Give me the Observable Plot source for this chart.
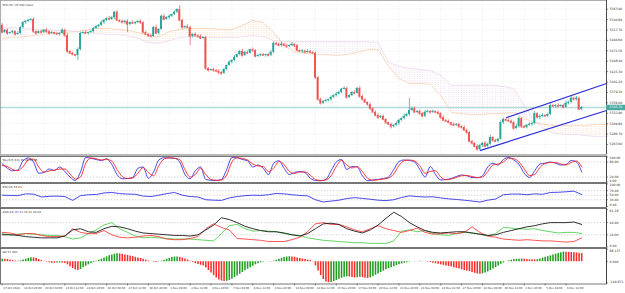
<!DOCTYPE html>
<html><head><meta charset="utf-8">
<script src="https://cdn.jsdelivr.net/npm/d3@7"></script>
<script src="https://cdn.jsdelivr.net/npm/@observablehq/plot@0.6"></script>
<style>
body{margin:0;background:#fff;}
#chart{position:relative;width:625px;height:293px;background:#fff;overflow:hidden;font-family:"DejaVu Sans",sans-serif}
#chart svg{position:absolute;left:0}
.sep{position:absolute;left:0;width:607px;background:#b8b8b8}
</style></head><body><div id="chart"></div>
<script>
// ---------- data ----------
const title = "SPX,H4: US 500 Index";
const stochTitle = "Stoch(5,3,3) 39.46 59.85";
const rsiTitle = "RSI(14) 53.21";
const adxTitle = "ADX(14) 37.11 15.21 22.06";
const aoTitle = "AO 57.260";

const firstOpen = 5528;
const close = [5512,5517,5510,5512,5514,5508,5510,5523,5534,5537,
5539,5541,5514,5510,5514,5512,5517,5514,5510,5512,
5510,5508,5510,5517,5505,5470,5466,5463,5461,5474,
5510,5512,5510,5512,5514,5521,5525,5528,5534,5539,
5543,5541,5545,5557,5539,5537,5534,5537,5530,5534,
5532,5534,5537,5534,5512,5508,5505,5503,5523,5510,
5519,5548,5541,5545,5548,5552,5557,5563,5539,5523,
5525,5523,5503,5508,5505,5503,5499,5501,5432,5428,
5430,5428,5426,5423,5421,5430,5439,5446,5450,5457,
5463,5470,5461,5468,5466,5474,5472,5459,5461,5463,
5461,5463,5461,5468,5488,5486,5483,5486,5483,5481,
5483,5486,5483,5472,5470,5471,5468,5470,5468,5466,
5412,5363,5355,5359,5361,5363,5368,5372,5375,5379,
5386,5388,5368,5372,5379,5377,5388,5370,5363,5357,
5352,5343,5335,5328,5323,5326,5319,5312,5308,5303,
5306,5310,5317,5321,5326,5330,5339,5343,5335,5337,
5332,5326,5335,5337,5335,5337,5335,5332,5323,5317,
5315,5312,5308,5306,5308,5303,5301,5295,5290,5270,
5266,5259,5252,5261,5266,5259,5264,5279,5272,5270,
5275,5312,5319,5317,5315,5312,5299,5303,5321,5303,
5301,5306,5308,5310,5332,5323,5326,5328,5326,5330,
5350,5348,5350,5348,5350,5346,5355,5357,5366,5363,
5366,5341,5345.7];
const wickUp = [4,2,3,1,3,2,4,2,3,1,
2,3,4,2,1,3,2,4,2,3,
1,3,2,4,3,5,2,3,1,4,
3,2,4,1,3,2,3,2,4,3,
2,5,3,2,4,1,3,2,3,2,
4,2,1,3,2,3,2,4,3,5,
2,3,4,2,3,1,3,2,9,3,
2,4,3,1,3,2,4,2,3,2,
1,3,2,4,2,3,1,3,2,4,
2,3,5,2,3,1,4,2,3,2,
3,1,2,4,3,2,3,5,2,3,
2,4,1,3,2,3,2,4,3,2,
3,2,4,2,3,1,3,2,4,3,
2,4,3,2,3,4,2,4,3,2,
1,3,2,3,4,2,3,2,1,3,
2,4,3,2,5,3,27,3,4,2,
3,2,4,3,2,3,1,3,2,4,
2,3,1,4,2,3,2,4,3,2,
3,2,4,3,2,4,3,5,2,3,
2,4,3,2,4,3,3,5,4,2,
3,2,4,3,5,2,3,4,2,3,
4,3,2,4,2,3,5,3,6,3,
4,3,2];
const wickDn = [3,2,4,2,3,4,2,3,2,4,
3,2,3,4,2,3,2,3,4,2,
3,2,4,2,3,4,3,2,3,11,
2,3,2,4,2,3,2,3,2,4,
3,2,3,4,2,3,2,4,18,3,
2,3,2,4,3,2,4,3,2,3,
4,2,3,2,4,3,2,3,2,4,
3,2,20,3,2,4,3,2,4,3,
2,4,3,5,4,2,3,2,4,3,
2,3,4,2,3,2,4,3,2,3,
2,4,3,2,3,4,2,3,2,4,
3,2,4,3,2,4,3,2,3,2,
4,3,4,3,2,3,4,2,3,2,
3,2,4,3,2,3,2,4,3,2,
3,4,2,3,4,2,3,4,2,5,
3,2,4,2,3,2,4,3,2,3,
4,2,3,2,4,3,2,3,4,2,
3,2,4,3,2,4,3,2,4,3,
4,3,3,2,4,3,2,3,4,2,
3,2,4,3,2,3,4,2,3,4,
2,3,2,4,3,2,4,3,2,3,
3,2,4,3,2,3,2,4,3,2,
3,2,3];

// Ichimoku cloud, one value every 4 bars
const cloudStep = 4;
const spanA = [5499,5501,5503,5505,5508,5510,5512,5514,5517,5521,5521,5519,5517,5512,5505,5503,5514,5519,5521,5521,5521,5519,5519,5528,5539,5534,5512,5483,5468,5466,5463,5463,5461,5463,5468,5474,5474,5437,5410,5399,5399,5397,5372,5335,5332,5330,5330,5332,5332,5335,5321,5312,5308,5306,5306,5306,5306,5308,5308];
const spanB = [5523,5523,5521,5519,5519,5517,5517,5514,5512,5510,5508,5508,5505,5499,5490,5488,5494,5501,5503,5503,5501,5501,5501,5503,5505,5503,5494,5492,5492,5492,5492,5492,5492,5492,5492,5492,5490,5446,5437,5432,5430,5428,5417,5395,5395,5395,5395,5395,5392,5388,5350,5317,5295,5288,5286,5286,5283,5281,5281];

// trend channel (bar index, price)
const channelStart = [183, 193];
const channelStartPrice = [5250, 5323];
const channelEnd = [231.5, 231.5];
const channelEndPrice = [5339, 5399];

// Stochastic, one value every 2 bars
const stochStep = 2;
const stochK = [73,55,45,48,85,96,80,35,38,52,
46,60,42,20,6,40,98,95,90,86,
93,70,30,13,14,18,55,60,15,40,
88,97,96,95,80,30,13,45,60,10,
7,6,10,50,98,97,90,85,60,68,
55,30,75,85,55,30,38,42,38,15,
6,5,10,45,80,90,50,62,60,25,
5,8,10,14,20,50,82,88,86,80,
50,20,62,30,8,10,14,22,28,25,
18,17,25,60,75,68,90,98,88,70,
35,18,45,72,75,80,75,68,70,86,
80,40];
const stochD = [66,62,50,45,62,88,92,60,40,44,
48,52,52,32,12,20,75,96,93,88,
90,84,50,22,14,16,35,58,38,25,
65,92,97,95,90,50,20,30,55,30,
10,7,8,28,80,97,94,88,72,64,
62,42,55,82,70,42,34,40,40,28,
10,6,8,25,62,86,68,56,62,42,
15,7,9,12,16,32,66,85,88,84,
65,35,42,45,20,9,12,18,25,26,
22,18,20,42,68,72,80,95,93,80,
52,26,30,58,74,78,78,72,68,78,
84,60];

// RSI and ADX, one value every 3 bars
const rsiStep = 3;
const rsi = [50,49,48,56,55,42,45,46,44,27,
48,52,53,60,62,57,55,54,46,44,
50,57,62,50,44,42,30,28,27,38,
44,48,50,49,52,58,56,52,49,47,
30,20,24,28,35,39,36,32,28,26,
30,40,47,44,42,43,38,34,31,28,
24,20,28,33,52,55,55,52,56,54,
62,63,65,68,53];
const adxStep = 3;
const adx = [20,20,19,17,16,15,15,15,18,28,
30,25,24,30,34,33,30,26,23,22,
21,20,19,19,18,20,28,36,48,45,
40,34,30,27,25,25,23,20,18,22,
30,38,39,37,30,26,23,28,36,47,
57,50,40,33,27,24,23,24,25,25,
23,21,19,20,24,27,30,33,35,38,
40,40,40,41,37];
const minusDI = [24,23,20,22,22,19,17,17,18,30,
24,22,22,27,20,16,15,16,18,19,
17,13,12,12,14,17,30,38,32,28,
14,13,12,11,9,9,9,12,16,25,
38,40,37,37,33,28,25,30,35,30,
27,24,27,31,24,21,22,23,22,24,
33,24,18,16,13,12,11,12,11,10,
10,9,8,9,15];
const plusDI = [22,20,21,22,21,20,19,19,17,13,
15,22,28,36,40,30,24,18,15,16,
15,14,13,13,13,12,11,10,22,35,
37,30,26,27,26,25,22,20,19,15,
13,11,10,9,8,7,7,6,6,6,
10,26,28,25,27,22,20,19,22,24,
23,21,18,22,32,31,30,29,30,27,
25,23,24,24,22];

// Awesome Oscillator, one value per bar
const ao = [18,17,15,12,8,5,3,6,12,18,
24,28,27,22,15,8,2,-3,-8,-10,
-11,-9,-8,-10,-13,-22,-35,-48,-58,-62,
-55,-42,-32,-22,-13,-5,3,10,18,26,
34,42,48,53,56,55,52,48,44,40,
36,31,27,23,18,11,5,0,-4,-5,
-2,4,11,18,24,29,33,34,31,26,
20,12,3,-6,-14,-20,-25,-30,-45,-62,
-80,-98,-115,-128,-136,-140,-138,-132,-124,-112,
-100,-88,-76,-64,-53,-42,-32,-22,-14,-8,
-3,0,2,1,4,10,17,24,29,33,
35,34,31,27,23,19,15,12,8,2,
-30,-66,-98,-125,-143,-148,-146,-140,-132,-124,
-117,-110,-106,-108,-112,-115,-113,-110,-112,-116,
-118,-114,-106,-96,-86,-76,-66,-57,-49,-42,
-35,-28,-22,-16,-11,-7,-3,0,2,1,
3,2,-1,-3,-6,-10,-14,-18,-22,-26,
-30,-34,-38,-42,-47,-52,-57,-62,-66,-70,
-76,-82,-87,-89,-86,-80,-72,-62,-52,-42,
-30,-18,-8,0,6,11,15,17,18,19,
17,16,14,13,12,15,20,26,31,36,
41,47,53,58,63,68,67,66,65,63,
62,60,57];

// axis tick labels
const priceTicks = [5563.90,5540.80,5517.70,5494.60,5471.50,5448.40,5425.30,5402.20,5379.10,5356.00,5332.90,5309.80,5286.70,5263.60];
const stochTicks = [100,80,20,0];
const stochLevels = [80,20];
const rsiTicks = [100,70,50,30,0];
const rsiLevels = [70,50,30];
const adxTicks = [61.18,40,20,0];
const adxLevels = [40,20];
const aoTicks = [88.137,0,-149.872];
const timeLabelStep = 8;
const timeLabels = ["17 Oct 2023","18 Oct 20:00","20 Oct 04:00","23 Oct 12:00","24 Oct 20:00","26 Oct 04:00","27 Oct 12:00","30 Oct 20:00","1 Nov 04:00","2 Nov 12:00","3 Nov 20:00","7 Nov 04:00","8 Nov 12:00","9 Nov 20:00","13 Nov 04:00","14 Nov 12:00","15 Nov 20:00","17 Nov 04:00","20 Nov 12:00","21 Nov 20:00","23 Nov 04:00","24 Nov 12:00","27 Nov 20:00","29 Nov 04:00","30 Nov 12:00","1 Dec 20:00","5 Dec 04:00","6 Dec 12:00"];

// ---------- derived tables ----------
const UP = "#26a69a", DOWN = "#ef5350";
const candles = close.map((c, i) => {
  const o = i === 0 ? firstOpen : close[i - 1];
  return {i, o, c, h: Math.max(o, c) + wickUp[i], l: Math.min(o, c) - wickDn[i], col: c >= o ? UP : DOWN};
});
const lastClose = close[close.length - 1];
const cloud = spanA.map((a, k) => ({i: k * cloudStep, a, b: spanB[k], top: Math.max(a, spanB[k])}));
const channel = channelStart.map((s, k) => ({x1: s, y1: channelStartPrice[k], x2: channelEnd[k], y2: channelEndPrice[k]}));
const stoch = stochK.map((k, j) => ({i: j * stochStep, k, d: stochD[j]}));
const rsiData = rsi.map((v, j) => ({i: j * rsiStep, v}));
const adxData = adx.map((v, j) => ({i: j * adxStep, adx: v, minus: minusDI[j], plus: plusDI[j]}));
const aoData = ao.map((v, i) => ({i, v, col: i > 0 && v < ao[i - 1] ? "#ff2b2b" : "#1f9e1f"}));
const timeIdx = timeLabels.map((d, k) => k * timeLabelStep);

// ---------- drawing ----------
const chart = document.getElementById("chart");
const XDOM = [-0.65, 231.5];
const FONT = "DejaVu Sans, sans-serif";

function panel(top, height, yopts, marks, marginBottom = 0) {
  const svg = Plot.plot({
    width: 625, height, marginLeft: 0, marginRight: 19, marginTop: 0, marginBottom,
    x: {domain: XDOM, axis: null},
    y: {...yopts, axis: null},
    style: {background: "transparent", overflow: "visible", fontFamily: FONT},
    marks
  });
  svg.style.position = "absolute";
  svg.style.top = top + "px";
  svg.style.left = "0px";
  chart.appendChild(svg);
  return svg;
}
// right-hand value labels; the extreme labels are nudged inward like the terminal does
function yLabels(ticks, fmt, edge = 1.3) {
  const hi = Math.max(...ticks), lo = Math.min(...ticks);
  const marks = [Plot.ruleY(ticks, {x1: XDOM[1], x2: XDOM[1] + 0.8, stroke: "#444", strokeWidth: 0.6})];
  ticks.forEach(t => {
    const dy = t === hi ? edge : t === lo ? -edge : 0;
    marks.push(Plot.text([t], {y: d => d, frameAnchor: "right", dx: 3, dy, textAnchor: "start", text: fmt, fontSize: 3.1, fill: "#333"}));
  });
  return marks;
}
function header(t, dy) {
  return Plot.text([t], {frameAnchor: "top-left", dx: 2, dy, text: d => d, textAnchor: "start", fontSize: 2.8, fill: "#333"});
}
const vgrid = Plot.ruleX(timeIdx, {stroke: "#e4e4e4", strokeWidth: 0.5, strokeDasharray: "1,1"});
const axisLine = Plot.ruleX([XDOM[1]], {stroke: "#333", strokeWidth: 0.8});

// main price panel
const mainSvg = panel(0, 154, {domain: [5241.3, 5583.2], range: [154, 0]}, [
  Plot.ruleY(priceTicks, {stroke: "#e4e4e4", strokeWidth: 0.5, strokeDasharray: "1,1"}),
  vgrid,
  Plot.areaY(cloud, {x: "i", y1: "b", y2: "top", fill: "url(#hatchO)"}),
  Plot.areaY(cloud, {x: "i", y1: "a", y2: "top", fill: "url(#hatchP)"}),
  Plot.lineY(cloud, {x: "i", y: "a", stroke: "#f6b98a", strokeWidth: 0.6, strokeDasharray: "1,1"}),
  Plot.lineY(cloud, {x: "i", y: "b", stroke: "#e2c4e2", strokeWidth: 0.6, strokeDasharray: "1,1"}),
  Plot.ruleY([lastClose], {stroke: "#b4dcd9", strokeWidth: 1.3}),
  Plot.ruleX(candles, {x: "i", y1: "l", y2: "h", stroke: "col", strokeWidth: 0.7}),
  Plot.rect(candles, {x1: d => d.i - 0.36, x2: d => d.i + 0.36, y1: "o", y2: "c", fill: "col"}),
  Plot.ruleY(candles, {y: "c", x1: d => d.i - 0.36, x2: d => d.i + 0.36, stroke: "col", strokeWidth: 0.7}),
  Plot.link(channel, {x1: "x1", y1: "y1", x2: "x2", y2: "y2", stroke: "#2b2bdc", strokeWidth: 1.2}),
  Plot.frame({stroke: "#9a9a9a", strokeWidth: 0.8}),
  axisLine,
  ...yLabels(priceTicks, d => d.toFixed(2), 0),
  Plot.ruleY([lastClose], {x1: XDOM[1], x2: XDOM[1] + 7.3, stroke: "#4aa9a1", strokeWidth: 5.5}),
  Plot.text([lastClose], {y: d => d, frameAnchor: "right", dx: 3, textAnchor: "start", text: d => d.toFixed(2), fontSize: 3.1, fill: "white"}),
  header(title, 3.6)
]);
// faint dotted hatch patterns for the cloud
(function addPatterns(svg) {
  const ns = "http://www.w3.org/2000/svg";
  const defs = document.createElementNS(ns, "defs");
  [["hatchO", "#f5a96a"], ["hatchP", "#d9a9d9"]].forEach(([id, col]) => {
    const p = document.createElementNS(ns, "pattern");
    p.setAttribute("id", id); p.setAttribute("width", "2.6"); p.setAttribute("height", "2");
    p.setAttribute("patternUnits", "userSpaceOnUse");
    const r = document.createElementNS(ns, "rect");
    r.setAttribute("x", "0.8"); r.setAttribute("y", "0"); r.setAttribute("width", "0.7"); r.setAttribute("height", "0.8");
    r.setAttribute("fill", col); r.setAttribute("fill-opacity", "0.55");
    p.appendChild(r); defs.appendChild(p);
  });
  svg.insertBefore(defs, svg.firstChild);
})(mainSvg);

// separator between price panel and indicators
const sep = document.createElement("div");
sep.className = "sep"; sep.style.top = "153.5px"; sep.style.height = "2.5px";
chart.appendChild(sep);

// Stochastic
panel(156, 26, {domain: [0, 100], range: [25.5, 0.5]}, [
  Plot.ruleY(stochLevels, {stroke: "#bdbdbd", strokeWidth: 0.6, strokeDasharray: "1.5,1.5"}),
  Plot.lineY(stoch, {x: "i", y: "k", stroke: "#3232e6", strokeWidth: 0.9, curve: "monotone-x"}),
  Plot.lineY(stoch, {x: "i", y: "d", stroke: "#ff2424", strokeWidth: 0.9, curve: "monotone-x"}),
  Plot.frame({stroke: "#555", strokeWidth: 0.8}),
  axisLine,
  ...yLabels(stochTicks, d => d.toFixed(2)),
  header(stochTitle, 2.2)
]);

// RSI
panel(183, 24, {domain: [0, 100], range: [23, 0.4]}, [
  Plot.ruleY(rsiLevels, {stroke: "#bdbdbd", strokeWidth: 0.6, strokeDasharray: "1.5,1.5"}),
  Plot.lineY(rsiData, {x: "i", y: "v", stroke: "#3535e6", strokeWidth: 0.9}),
  Plot.frame({stroke: "#555", strokeWidth: 0.8}),
  axisLine,
  ...yLabels(rsiTicks, d => d.toFixed(2)),
  header(rsiTitle, 2.2)
]);

// ADX
panel(208, 39, {domain: [0, 61.18], range: [38.5, 1.2]}, [
  Plot.ruleY(adxLevels, {stroke: "#bdbdbd", strokeWidth: 0.6, strokeDasharray: "1.5,1.5"}),
  Plot.lineY(adxData, {x: "i", y: "plus", stroke: "#3fc83f", strokeWidth: 0.8}),
  Plot.lineY(adxData, {x: "i", y: "minus", stroke: "#ff2a2a", strokeWidth: 0.8}),
  Plot.lineY(adxData, {x: "i", y: "adx", stroke: "#1a1a1a", strokeWidth: 0.9}),
  Plot.frame({stroke: "#555", strokeWidth: 0.8}),
  axisLine,
  ...yLabels(adxTicks, d => d.toFixed(2)),
  header(adxTitle, 2.4)
]);

// Awesome Oscillator + time axis
panel(248, 45.5, {domain: [-149.872, 88.137], range: [34.5, 0.7]}, [
  Plot.ruleX(aoData, {x: "i", y1: 0, y2: "v", stroke: "col", strokeWidth: 1.55}),
  Plot.frame({stroke: "#555", strokeWidth: 0.8}),
  axisLine,
  ...yLabels(aoTicks, d => d.toFixed(3)),
  header(aoTitle, 2.2),
  Plot.ruleX(timeIdx, {x: d => d, y1: -157, y2: -171, stroke: "#444", strokeWidth: 0.6}),
  Plot.text(timeLabels, {x: (d, k) => timeIdx[k], frameAnchor: "bottom", dy: 4.6, dx: 1, textAnchor: "start", text: d => d, fontSize: 2.7, fill: "#333"})
], 10);
</script></body></html>
